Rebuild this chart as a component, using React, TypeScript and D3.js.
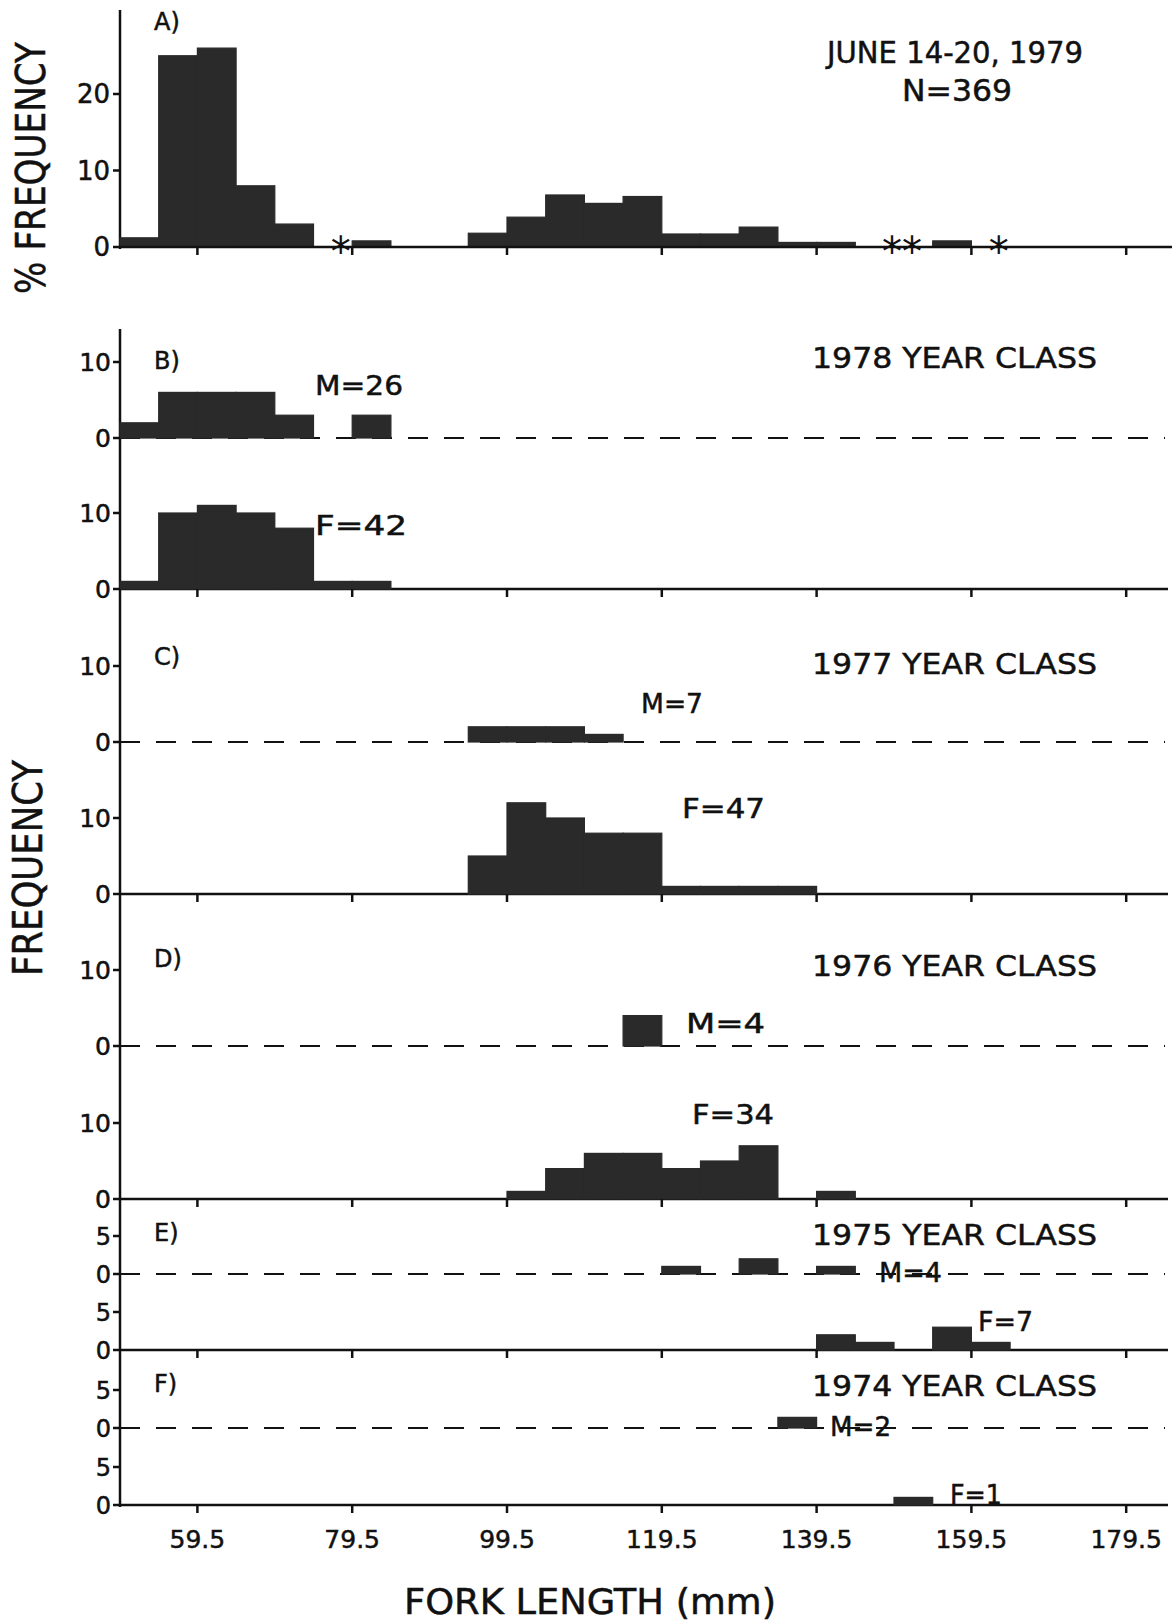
import React from 'react';
import * as d3 from 'd3';

// 5 mm fork length classes, lower edges
const binStarts = [
  49.5, 54.5, 59.5, 64.5, 69.5, 74.5, 79.5, 84.5, 89.5, 94.5, 99.5, 104.5,
  109.5, 114.5, 119.5, 124.5, 129.5, 134.5, 139.5, 144.5, 149.5, 154.5, 159.5, 164.5
];

// A) June 14-20 1979, % frequency (N = 369)
const pctAll = [1.2, 25, 26, 8, 3, 0, 0.8, 0, 0, 1.8, 3.9, 6.8, 5.7, 6.6, 1.7, 1.7, 2.6, 0.6, 0.6, 0, 0, 0.8, 0, 0];
// classes marked with * (less than 0.5 %)
const starBins = [74.5, 144.5, 149.5, 159.5];

// counts by year class, males / females
const m1978 = [2, 6, 6, 6, 3, 0, 3, 0, 0, 0, 0, 0, 0, 0, 0, 0, 0, 0, 0, 0, 0, 0, 0, 0];
const f1978 = [1, 10, 11, 10, 8, 1, 1, 0, 0, 0, 0, 0, 0, 0, 0, 0, 0, 0, 0, 0, 0, 0, 0, 0];
const m1977 = [0, 0, 0, 0, 0, 0, 0, 0, 0, 2, 2, 2, 1, 0, 0, 0, 0, 0, 0, 0, 0, 0, 0, 0];
const f1977 = [0, 0, 0, 0, 0, 0, 0, 0, 0, 5, 12, 10, 8, 8, 1, 1, 1, 1, 0, 0, 0, 0, 0, 0];
const m1976 = [0, 0, 0, 0, 0, 0, 0, 0, 0, 0, 0, 0, 0, 4, 0, 0, 0, 0, 0, 0, 0, 0, 0, 0];
const f1976 = [0, 0, 0, 0, 0, 0, 0, 0, 0, 0, 1, 4, 6, 6, 4, 5, 7, 0, 1, 0, 0, 0, 0, 0];
const m1975 = [0, 0, 0, 0, 0, 0, 0, 0, 0, 0, 0, 0, 0, 0, 1, 0, 2, 0, 1, 0, 0, 0, 0, 0];
const f1975 = [0, 0, 0, 0, 0, 0, 0, 0, 0, 0, 0, 0, 0, 0, 0, 0, 0, 0, 2, 1, 0, 3, 1, 0];
const m1974 = [0, 0, 0, 0, 0, 0, 0, 0, 0, 0, 0, 0, 0, 0, 0, 0, 0, 1.4, 0, 0, 0, 0, 0, 0];
const f1974 = [0, 0, 0, 0, 0, 0, 0, 0, 0, 0, 0, 0, 0, 0, 0, 0, 0, 0, 0, 0, 1, 0, 0, 0];

const xTicks = [59.5, 79.5, 99.5, 119.5, 139.5, 159.5, 179.5];
const binWidth = 5;

const INK = '#111';
const BAR = '#2a2a2a';
const FONT = '"DejaVu Sans", sans-serif';

const W = 1176;
const H = 1621;
const x0 = 120;

// slightly heavier lettering, like the hand lettered original
const ink = { fill: INK, stroke: INK, strokeWidth: 0.5 };

export default function App() {
  const x = d3.scaleLinear().domain([49.5, 184.5]).range([x0, x0 + 135 * 7.74]);
  const yA = d3.scaleLinear().domain([0, 20]).range([247, 94]);

  // rows for panels B-F: baseline, tick values, line style, series, label
  const rows = [
    { base: 438, ticks: [0, 10], solid: false, data: m1978, note: 'M=26', nx: 315, ny: 385, nw: 88 },
    { base: 589, ticks: [0, 10], solid: true, data: f1978, note: 'F=42', nx: 315, ny: 525, nw: 92 },
    { base: 742, ticks: [0, 10], solid: false, data: m1977, note: 'M=7', nx: 641, ny: 703, nw: 62 },
    { base: 894, ticks: [0, 10], solid: true, data: f1977, note: 'F=47', nx: 682, ny: 808, nw: 83 },
    { base: 1046, ticks: [0, 10], solid: false, data: m1976, note: 'M=4', nx: 686, ny: 1023, nw: 79 },
    { base: 1199, ticks: [0, 10], solid: true, data: f1976, note: 'F=34', nx: 692, ny: 1114, nw: 82 },
    { base: 1274, ticks: [0, 5], solid: false, data: m1975, note: 'M=4', nx: 879, ny: 1272, nw: 63 },
    { base: 1350, ticks: [0, 5], solid: true, data: f1975, note: 'F=7', nx: 978, ny: 1321, nw: 55 },
    { base: 1428, ticks: [0, 5], solid: false, data: m1974, note: 'M=2', nx: 830, ny: 1426, nw: 61 },
    { base: 1505, ticks: [0, 5], solid: true, data: f1974, note: 'F=1', nx: 950, ny: 1494, nw: 52 }
  ];

  const titles = [
    { text: 'B)', y: 360, cls: '1978  YEAR  CLASS', cy: 358 },
    { text: 'C)', y: 656, cls: '1977  YEAR  CLASS', cy: 664 },
    { text: 'D)', y: 958, cls: '1976  YEAR  CLASS', cy: 966 },
    { text: 'E)', y: 1232, cls: '1975  YEAR  CLASS', cy: 1235 },
    { text: 'F)', y: 1383, cls: '1974  YEAR  CLASS', cy: 1386 }
  ];

  // consecutive starred classes are lettered as one group ("**")
  const starGroups: number[][] = [];
  starBins.forEach(b => {
    const last = starGroups[starGroups.length - 1];
    if (last && b - last[last.length - 1] === binWidth) last.push(b);
    else starGroups.push([b]);
  });

  const bars = (vals: number[], y: d3.ScaleLinear<number, number>, base: number, key: string) =>
    vals.map((v, i) =>
      v > 0 ? (
        <rect
          key={key + i}
          x={x(binStarts[i])}
          y={y(v)}
          width={x(binStarts[i] + binWidth) - x(binStarts[i])}
          height={base - y(v)}
          fill={BAR}
          stroke={BAR}
          strokeWidth={1.2}
        />
      ) : null
    );

  const downTicks = (base: number, key: string) =>
    xTicks.map(t => (
      <line key={key + t} x1={x(t)} x2={x(t)} y1={base} y2={base + 8} stroke={INK} strokeWidth={2.5} />
    ));

  return (
    <svg
      width={W}
      height={H}
      style={{ position: 'absolute', left: 0, top: 0, display: 'block', background: '#fff' }}
      fontFamily={FONT}
    >
      {/* panel A */}
      <line x1={x0} x2={x0} y1={10} y2={249} stroke={INK} strokeWidth={2.5} />
      {bars(pctAll, yA, 247, 'a')}
      <line x1={x0} x2={1172} y1={247} y2={247} stroke={INK} strokeWidth={2.5} />
      {downTicks(247, 'at')}
      {[0, 10, 20].map(t => (
        <g key={'ya' + t}>
          <line x1={x0 - 7} x2={x0} y1={yA(t)} y2={yA(t)} stroke={INK} strokeWidth={2.5} />
          <text x={x0 - 10} y={yA(t)} dy="0.36em" textAnchor="end" fontSize={26} {...ink}>
            {t}
          </text>
        </g>
      ))}
      {starGroups.map(g => {
        const mid = (g[0] + g[g.length - 1] + binWidth) / 2;
        return (
          <text key={'s' + g[0]} x={x(mid) + 8} y={266} textAnchor="middle" fontSize={40} fill={INK}>
            {'*'.repeat(g.length)}
          </text>
        );
      })}
      <text x={154} y={30} fontSize={24} {...ink}>A)</text>
      <text x={955} y={63} textAnchor="middle" fontSize={30} {...ink} textLength={256} lengthAdjust="spacingAndGlyphs">
        JUNE 14-20, 1979
      </text>
      <text x={957} y={101} textAnchor="middle" fontSize={30} {...ink} textLength={110} lengthAdjust="spacingAndGlyphs">
        N=369
      </text>
      <text
        transform="translate(45,168) rotate(-90)"
        textAnchor="middle"
        fontSize={40}
        {...ink}
        textLength={252}
        lengthAdjust="spacingAndGlyphs"
      >
        % FREQUENCY
      </text>

      {/* panels B-F */}
      <line x1={x0} x2={x0} y1={329} y2={1507} stroke={INK} strokeWidth={2.5} />
      {rows.map((r, k) => {
        const y = d3.scaleLinear().domain([0, 10]).range([r.base, r.base - 76]);
        return (
          <g key={'r' + k}>
            {r.solid ? (
              <line x1={x0} x2={1168} y1={r.base} y2={r.base} stroke={INK} strokeWidth={2.5} />
            ) : (
              <line
                x1={x0}
                x2={1165}
                y1={r.base}
                y2={r.base}
                stroke={INK}
                strokeWidth={2}
                strokeDasharray="20 16"
              />
            )}
            {bars(r.data, y, r.base, 'b' + k)}
            {r.solid ? downTicks(r.base, 'rt' + k) : null}
            {r.ticks.map(t => (
              <g key={'yt' + k + t}>
                <line x1={x0 - 7} x2={x0} y1={y(t)} y2={y(t)} stroke={INK} strokeWidth={2.5} />
                <text
                  x={x0 - 9}
                  y={y(t)}
                  dy="0.36em"
                  textAnchor="end"
                  fontSize={r.ticks[1] === 5 ? 24 : 25}
                  {...ink}
                >
                  {t}
                </text>
              </g>
            ))}
            <text
              x={r.nx}
              y={r.ny}
              dy="0.36em"
              fontSize={27}
              {...ink}
              textLength={r.nw}
              lengthAdjust="spacingAndGlyphs"
            >
              {r.note}
            </text>
          </g>
        );
      })}
      {titles.map(t => (
        <g key={t.text}>
          <text x={154} y={t.y} dy="0.36em" fontSize={24} {...ink}>
            {t.text}
          </text>
          <text
            x={1097}
            y={t.cy}
            dy="0.36em"
            textAnchor="end"
            fontSize={29}
            {...ink}
            textLength={285}
            lengthAdjust="spacingAndGlyphs"
          >
            {t.cls}
          </text>
        </g>
      ))}
      <text
        transform="translate(42,868) rotate(-90)"
        textAnchor="middle"
        fontSize={40}
        {...ink}
        textLength={216}
        lengthAdjust="spacingAndGlyphs"
      >
        FREQUENCY
      </text>

      {/* x axis labels */}
      {xTicks.map(t => (
        <text key={'xl' + t} x={x(t)} y={1539} dy="0.36em" textAnchor="middle" fontSize={25} {...ink}>
          {t}
        </text>
      ))}
      <text
        x={590}
        y={1601}
        dy="0.36em"
        textAnchor="middle"
        fontSize={35}
        {...ink}
        textLength={372}
        lengthAdjust="spacingAndGlyphs"
      >
        FORK LENGTH (mm)
      </text>
    </svg>
  );
}
